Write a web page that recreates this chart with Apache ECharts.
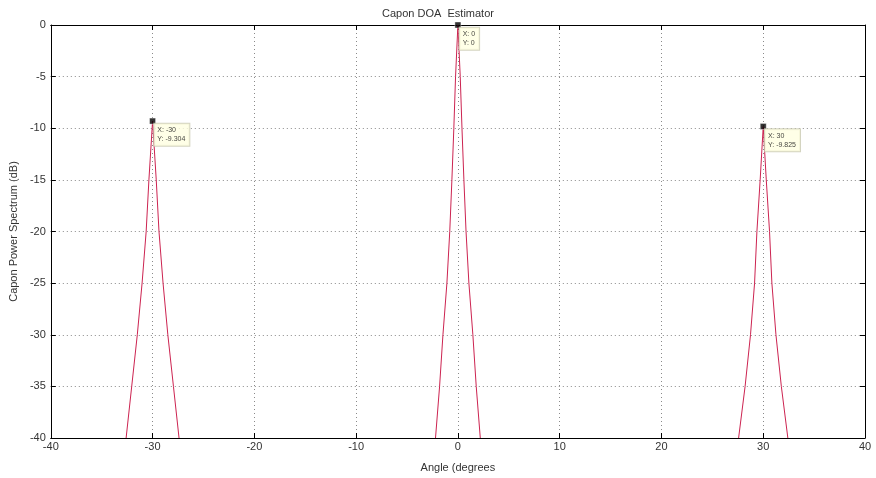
<!DOCTYPE html>
<html>
<head>
<meta charset="utf-8">
<title>Capon DOA Estimator</title>
<script src="https://cdn.jsdelivr.net/npm/echarts@6/dist/echarts.min.js"></script>
<style>
  html, body { margin: 0; padding: 0; background: #fff; }
  #chart { width: 876px; height: 478px; }
</style>
</head>
<body>
<div id="chart"></div>
<script>
// Capon spectrum around the three detected sources (dB, values below -40 are off-scale)
const leftAngles   = [-32.6, -32.05, -31.5, -31.03, -30.63, -30.36, -30, -29.64, -29.37, -28.97, -28.5, -27.95, -27.4];
const leftPower    = [-40, -35, -30, -25, -20, -15, -9.304, -15, -20, -25, -30, -35, -40];
const centerAngles = [-2.2, -1.8, -1.47, -1.08, -0.8, -0.59, -0.4, -0.23, 0, 0.23, 0.4, 0.59, 0.8, 1.08, 1.47, 1.8, 2.2];
const centerPower  = [-40, -35, -30, -25, -20, -15, -10, -5, 0, -5, -10, -15, -20, -25, -30, -35, -40];
const rightAngles  = [27.58, 28.22, 28.75, 29.15, 29.38, 29.7, 30, 30.3, 30.62, 30.85, 31.25, 31.78, 32.42];
const rightPower   = [-40, -35, -30, -25, -20, -15, -9.825, -15, -20, -25, -30, -35, -40];

// Data tips on the peaks
const peakAngles = [-30, 0, 30];
const peakPower  = [-9.304, 0, -9.825];

// Axis ticks
const xTicks = [-40, -30, -20, -10, 0, 10, 20, 30, 40];
const yTicks = [-40, -35, -30, -25, -20, -15, -10, -5, 0];

const zip = (xs, ys) => xs.map((x, i) => [x, ys[i]]);
const font = '"Liberation Sans", Arial, sans-serif';
const textColor = '#333';
const lineColor = '#cc2350';

const chart = echarts.init(document.getElementById('chart'), null, { renderer: 'canvas' });

const baseX = {
  type: 'value',
  min: xTicks[0],
  max: xTicks[xTicks.length - 1],
  interval: 10,
  axisLine: { show: true, onZero: false, lineStyle: { color: '#000', width: 1 } },
  axisTick: { show: true, inside: true, length: 5, lineStyle: { color: '#000' } },
  splitLine: { show: false },
  axisLabel: { show: false }
};
const baseY = {
  type: 'value',
  min: yTicks[0],
  max: yTicks[yTicks.length - 1],
  interval: 5,
  axisLine: { show: true, onZero: false, lineStyle: { color: '#000', width: 1 } },
  axisTick: { show: true, inside: true, length: 5, lineStyle: { color: '#000' } },
  splitLine: { show: false },
  axisLabel: { show: false }
};

const gridLine = { show: true, lineStyle: { color: '#8a8a8a', type: [1, 3], width: 1 } };

const peakSeries = [
  [leftAngles, leftPower],
  [centerAngles, centerPower],
  [rightAngles, rightPower]
].map(([xs, ys]) => ({
  type: 'line',
  data: zip(xs, ys),
  showSymbol: false,
  symbol: 'none',
  clip: true,
  lineStyle: { color: lineColor, width: 1 },
  z: 3,
  silent: true
}));

chart.setOption({
  animation: false,
  backgroundColor: '#fff',
  title: {
    text: 'Capon DOA  Estimator',
    left: 'center',
    top: 3,
    textStyle: { fontFamily: font, fontSize: 11, fontWeight: 'normal', color: textColor }
  },
  grid: { left: 49, right: 11, top: 25, bottom: 40, containLabel: false },
  xAxis: [
    Object.assign({}, baseX, {
      position: 'bottom',
      name: 'Angle (degrees',
      nameLocation: 'middle',
      nameGap: 24,
      nameTextStyle: { fontFamily: font, fontSize: 11, color: textColor },
      splitLine: gridLine,
      axisLabel: { show: true, fontFamily: font, fontSize: 11, color: textColor, margin: 3 }
    }),
    Object.assign({}, baseX, { position: 'top' })
  ],
  yAxis: [
    Object.assign({}, baseY, {
      position: 'left',
      name: 'Capon Power Spectrum (dB)',
      nameLocation: 'middle',
      nameGap: 29,
      nameTextStyle: { fontFamily: font, fontSize: 11, color: textColor },
      splitLine: gridLine,
      axisLabel: { show: true, fontFamily: font, fontSize: 11, color: textColor, margin: 5 }
    }),
    Object.assign({}, baseY, { position: 'right' })
  ],
  series: peakSeries.concat([{
    type: 'scatter',
    data: zip(peakAngles, peakPower),
    symbol: 'rect',
    symbolSize: 6,
    itemStyle: { color: '#000', borderColor: '#fff', borderWidth: 0.5 },
    z: 5,
    silent: true,
    label: {
      show: true,
      position: [5, 6],
      formatter: p => 'X: ' + p.value[0] + '\nY: ' + p.value[1],
      fontFamily: font,
      fontSize: 7,
      lineHeight: 9,
      color: '#111',
      backgroundColor: '#ffffe1',
      borderColor: '#c9c9b0',
      borderWidth: 1,
      padding: [2, 4, 2, 3]
    }
  }])
});
</script>
</body>
</html>
